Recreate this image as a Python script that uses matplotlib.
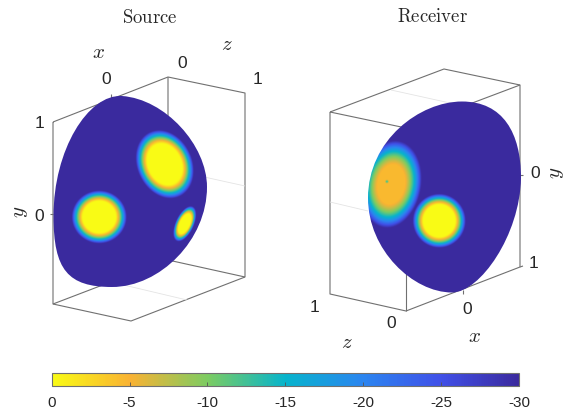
import numpy as np
import matplotlib
matplotlib.use('Agg')
import matplotlib.pyplot as plt
from matplotlib.colors import LinearSegmentedColormap
from matplotlib.patches import PathPatch
from matplotlib.path import Path

plt.rcParams['font.family'] = ['Liberation Sans', 'DejaVu Sans']
plt.rcParams['mathtext.fontset'] = 'cm'
plt.rcParams['axes.unicode_minus'] = False

# colormap stops (-30 ... 0)
cbar_stops = ['#3b2a9e', '#4050e8', '#2b85f0', '#06b4cc', '#7ccc62', '#f9b233', '#f9fb15']
cbar_ticks = [0, -5, -10, -15, -20, -25, -30]
level_min = -30

# outlines of the spherical surface as cubic bezier control points, picture pixels
src_outline = [(122, 96), (88, 94), (53.5, 150), (53.5, 216),
               (53.5, 270), (68, 287), (112, 287),
               (160, 287), (207, 240), (207, 187),
               (207, 145), (165, 99), (122, 96)]
rec_outline = [(462, 101.5), (420, 101.5), (368, 140), (368, 198),
               (368, 250), (413, 292.5), (452, 292.5),
               (480, 292.5), (520, 235), (521, 178),
               (521, 133), (503, 101.5), (462, 101.5)]

# spots: cx, cy, semi axis a, semi axis b, angle, core fraction, peak
src_spots = [(99, 216.7, 27.5, 26.5, 0, 0.6, 0),
             (164.5, 164, 35.5, 27.5, 65, 0.6, 0),
             (184.5, 223.5, 19, 9, -65, 0.56, 0),
             (191, 211, 4, 4, 0, 0.2, -20)]
rec_spots = [(439, 220.5, 26.5, 27, 0, 0.6, 0),
             (391, 184, 44, 30, -80, 0.45, -4.5)]
# small dip in the middle of the receiver's large spot: cx, cy, radius, level
rec_dips = [(386.7, 181.3, 2.0, -15)]

# wire box of each panel, picture pixels
src_box = [[(53, 122), (168, 77), (245, 93), (245, 277), (131, 321), (53, 304), (53, 122)],
           [(168, 77), (168, 260), (245, 277)], [(53, 304), (168, 260)]]
rec_box = [[(330, 112), (444, 69), (520, 85), (520, 267), (406, 311), (330, 294), (330, 112)],
           [(330, 112), (406, 128), (520, 85)], [(406, 128), (406, 311)]]
src_grid = [[(168, 169), (245, 186)], [(111, 282), (187, 300)]]
rec_grid = [[(391, 90), (450, 103)], [(330, 202), (368, 211)]]
src_ticks = [[(50, 213.5), (53, 213.5)], [(111, 99), (111, 94)]]
rec_ticks = [[(520, 175), (523, 175)], [(463, 290), (463, 294)], [(520, 267), (523, 266)]]

labels = [(150, 18, r'$\mathrm{Source}$', 13.5, 0), (433, 17, r'$\mathrm{Receiver}$', 13.5, 0),
          (99, 52, r'$x$', 15, 0), (226.7, 45, r'$z$', 15, 0), (20, 212, r'$y$', 15, 90),
          (556, 173, r'$y$', 15, 90), (347, 342, r'$z$', 15, 0), (474.7, 336, r'$x$', 15, 0)]
tick_text = [(105.7, 79, '0'), (181.7, 64, '0'), (257, 80, '1'), (39, 124, '1'), (39, 216.7, '0'),
             (534.7, 173, '0'), (533.7, 263, '1'), (314.7, 308, '1'), (391, 324, '0'), (467, 309, '0')]


def bezier_path(ctrl):
    codes = [Path.MOVETO] + [Path.CURVE4] * (len(ctrl) - 1)
    return Path(ctrl, codes)


def field(spots, dips, X, Y, p=2.5):
    z = np.full(X.shape, float(level_min))
    for cx, cy, a, b, ang, core, peak in spots:
        th = np.deg2rad(ang)
        u = (X - cx) * np.cos(th) + (Y - cy) * np.sin(th)
        v = -(X - cx) * np.sin(th) + (Y - cy) * np.cos(th)
        r = np.sqrt((u / a) ** 2 + (v / b) ** 2)
        val = peak + (level_min - peak) * (r ** p - core ** p) / (1 - core ** p)
        z = np.maximum(z, np.clip(val, level_min, peak))
    for cx, cy, rad, lev in dips:
        d = np.hypot(X - cx, Y - cy) / rad
        z = np.where(d < 1, lev + (z - lev) * d, z)
    return z


cmap = LinearSegmentedColormap.from_list('beam', cbar_stops, N=256)

fig = plt.figure(figsize=(5.66, 4.09), dpi=100)
ax = fig.add_axes([0, 0, 1, 1])
gx = np.arange(0, 566, 0.5)
gy = np.arange(0, 409, 0.5)
X, Y = np.meshgrid(gx, gy)
im = None
for outline, spots, dips in [(src_outline, src_spots, []), (rec_outline, rec_spots, rec_dips)]:
    im = ax.imshow(field(spots, dips, X, Y), extent=(0, 566, 409, 0), cmap=cmap, vmin=level_min, vmax=0,
                   interpolation='bilinear', zorder=3)
    clip = PathPatch(bezier_path(outline), transform=ax.transData, fc='none', ec='none')
    ax.add_patch(clip)
    im.set_clip_path(clip)

for segs, col, lw in [(src_box + rec_box + src_ticks + rec_ticks, '#707070', 0.8),
                      (src_grid + rec_grid, '#e4e4e4', 0.6)]:
    for seg in segs:
        s = np.array(seg)
        ax.plot(s[:, 0], s[:, 1], color=col, lw=lw, zorder=2, solid_capstyle='butt')

for x, y, s, size, rot in labels:
    ax.text(x, y, s, fontsize=size, rotation=rot, ha='center', va='center', color='#262626')
for x, y, s in tick_text:
    ax.text(x, y, s, fontsize=12.5, ha='center', va='center', color='#262626')

ax.set_xlim(0, 566)
ax.set_ylim(409, 0)
ax.set_aspect('auto')
ax.axis('off')

cax = fig.add_axes([51.7 / 566, 1 - 386 / 409, (519 - 51.7) / 566, 12.7 / 409])
cb = fig.colorbar(im, cax=cax, orientation='horizontal')
cax.set_xlim(0, level_min)
cb.set_ticks(cbar_ticks)
cb.set_ticklabels([str(t) for t in cbar_ticks])
cax.tick_params(axis='x', direction='in', length=3, width=0.6, color='#555555', labelsize=11,
                labelcolor='#262626', pad=7)
cb.outline.set_edgecolor('#707070')
cb.outline.set_linewidth(0.8)

fig.savefig('out.png', dpi=100)
